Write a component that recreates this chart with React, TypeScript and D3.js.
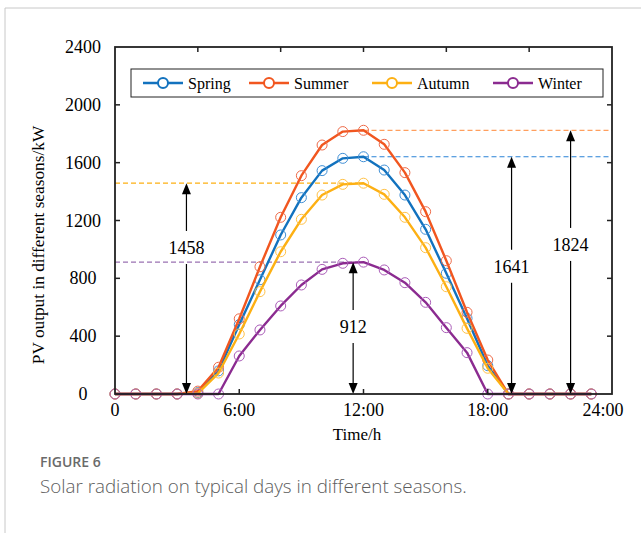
import React from 'react';
import * as d3 from 'd3';

// hourly PV output (kW) on a typical day per season
const hours = [0, 1, 2, 3, 4, 5, 6, 7, 8, 9, 10, 11, 12, 13, 14, 15, 16, 17, 18, 19, 20, 21, 22, 23];
const seasons = ['Spring', 'Summer', 'Autumn', 'Winter'];
const spring = [0, 0, 0, 0, 10, 160, 480, 790, 1100, 1358, 1545, 1630, 1641, 1549, 1376, 1139, 835, 523, 196, 0, 0, 0, 0, 0];
const summer = [0, 0, 0, 0, 20, 185, 520, 880, 1222, 1510, 1722, 1815, 1824, 1727, 1531, 1261, 922, 565, 235, 0, 0, 0, 0, 0];
const autumn = [0, 0, 0, 0, 5, 145, 415, 708, 984, 1208, 1376, 1450, 1458, 1381, 1222, 1012, 742, 454, 178, 0, 0, 0, 0, 0];
const winter = [0, 0, 0, 0, 0, 0, 263, 443, 609, 754, 862, 904, 912, 858, 770, 634, 459, 286, 0, 0, 0, 0, 0, 0];
const seriesValues = [spring, summer, autumn, winter];

const lineColors = ['#1272be', '#f1561f', '#fdb013', '#8b2b90'];
const markerColors = ['#3f8fd6', '#ee6a48', '#ffc247', '#aa5cb8'];
const dashColors = ['#2a82d6', '#ff9f5e', '#fdb013', '#9a72b2'];

// peak annotations: value, arrow hour, label centre (kW), side of the dashed guide
const peakLabels = ['1641', '1824', '1458', '912'];
const peakValues = [1641, 1824, 1458, 912];
const arrowHours = [19.15, 22, 3.45, 11.5];
const labelValues = [880, 1031, 1010, 463];
const guideSides = ['right', 'right', 'left', 'left'];

const xTicks = [0, 6, 12, 18, 24];
const xTickLabels = ['0', '6:00', '12:00', '18:00', '24:00'];
const topTicks = [4, 8, 12, 16, 20];
const yTicks = [0, 400, 800, 1200, 1600, 2000, 2400];

const serif = "'Liberation Serif', 'Times New Roman', serif";

const App = () => {
  const width = 641;
  const height = 533;
  const left = 115;
  const right = 612;
  const top = 47;
  const bottom = 394;

  const x = d3.scaleLinear().domain([0, 24]).range([left, right]);
  const y = d3.scaleLinear().domain([0, 2400]).range([bottom, top]);

  const line = d3.line<number>()
    .x((d, i) => x(hours[i]))
    .y(d => y(d));

  const arrowHead = (cx: number, tipY: number, dir: number) => {
    const len = 11;
    const half = 4.5;
    return `M${cx},${tipY} L${cx - half},${tipY + dir * len} L${cx + half},${tipY + dir * len} Z`;
  };

  // legend item positions
  const legendX = [143, 249, 372, 493];
  const legendY = 83;

  return (
    <svg width={width} height={height} style={{ position: 'absolute', left: 0, top: 0, background: '#fff' }}>
      {/* page frame */}
      <line x1={5} y1={8} x2={641} y2={8} stroke="#c8c8c8" strokeWidth={1} />
      <line x1={5} y1={8} x2={5} y2={533} stroke="#c8c8c8" strokeWidth={1} />

      {/* dashed peak guides */}
      {peakValues.map((v, i) => (
        <line
          key={'g' + i}
          x1={guideSides[i] === 'left' ? x(0) : x(12)}
          x2={guideSides[i] === 'left' ? x(12) : x(24)}
          y1={y(v)}
          y2={y(v)}
          stroke={dashColors[i]}
          strokeWidth={1.2}
          strokeDasharray="5,3"
        />
      ))}

      {/* series */}
      {seriesValues.map((vals, si) => (
        <g key={seasons[si]}>
          <path d={line(vals) || ''} fill="none" stroke={lineColors[si]} strokeWidth={2.4} strokeLinejoin="round" />
          {vals.map((v, i) => (
            <circle key={i} cx={x(hours[i])} cy={y(v)} r={5} fill="none" stroke={markerColors[si]} strokeWidth={1} />
          ))}
        </g>
      ))}

      {/* arrows */}
      {peakValues.map((v, i) => {
        const ax = x(arrowHours[i]);
        const yt = y(v);
        const yb = y(0);
        const ly = y(labelValues[i]);
        return (
          <g key={'a' + i}>
            <line x1={ax} x2={ax} y1={yt + 8} y2={ly - 17} stroke="#000" strokeWidth={1.2} />
            <line x1={ax} x2={ax} y1={ly + 16} y2={yb - 8} stroke="#000" strokeWidth={1.2} />
            <path d={arrowHead(ax, yt, 1)} fill="#000" />
            <path d={arrowHead(ax, yb, -1)} fill="#000" />
            <text x={ax} y={ly} textAnchor="middle" dominantBaseline="central" fontFamily={serif} fontSize={18}>
              {peakLabels[i]}
            </text>
          </g>
        );
      })}

      {/* axes box */}
      <rect x={left} y={top} width={right - left} height={bottom - top} fill="none" stroke="#222" strokeWidth={1.8} />
      {yTicks.slice(1, -1).map(t => (
        <g key={'yt' + t}>
          <line x1={left} x2={left + 5} y1={y(t)} y2={y(t)} stroke="#222" strokeWidth={1.5} />
          <line x1={right} x2={right - 5} y1={y(t)} y2={y(t)} stroke="#222" strokeWidth={1.5} />
        </g>
      ))}
      {topTicks.map(t => (
        <line key={'tt' + t} x1={x(t)} x2={x(t)} y1={top} y2={top + 5} stroke="#222" strokeWidth={1.5} />
      ))}
      {xTicks.slice(1, -1).map(t => (
        <line key={'bt' + t} x1={x(t)} x2={x(t)} y1={bottom} y2={bottom - 5} stroke="#222" strokeWidth={1.5} />
      ))}
      {yTicks.map(t => (
        <text key={'yl' + t} x={83} y={y(t)} textAnchor="middle" dominantBaseline="central" fontFamily={serif} fontSize={18}>
          {t}
        </text>
      ))}
      {xTicks.map((t, i) => (
        <text
          key={'xl' + t}
          x={i === xTicks.length - 1 ? x(t) - 9 : x(t)}
          y={416}
          textAnchor="middle"
          fontFamily={serif}
          fontSize={18}
        >
          {xTickLabels[i]}
        </text>
      ))}
      <text x={357} y={440} textAnchor="middle" fontFamily={serif} fontSize={17}>Time/h</text>
      <text
        transform={`translate(38,245) rotate(-90)`}
        textAnchor="middle"
        dominantBaseline="central"
        fontFamily={serif}
        fontSize={17.3}
      >
        PV output in different seasons/kW
      </text>

      {/* legend */}
      <rect x={131} y={69} width={472} height={28} fill="#fff" stroke="#222" strokeWidth={1} />
      {seasons.map((s, i) => (
        <g key={'lg' + s}>
          <line x1={legendX[i]} x2={legendX[i] + 40} y1={legendY} y2={legendY} stroke={lineColors[i]} strokeWidth={2.5} />
          <circle cx={legendX[i] + 20} cy={legendY} r={5} fill="#fff" stroke={lineColors[i]} strokeWidth={2} />
          <text x={legendX[i] + 45} y={legendY} dominantBaseline="central" fontFamily={serif} fontSize={16}>{s}</text>
        </g>
      ))}

      {/* caption */}
      <text x={40} y={467} fontFamily="'Open Sans', sans-serif" fontSize={14} fontWeight={600} fill="#6a6a6a">FIGURE 6</text>
      <text x={40} y={493} fontFamily="'Open Sans', sans-serif" fontSize={18.8} fontWeight={300} fill="#5c5c5c">
        Solar radiation on typical days in different seasons.
      </text>
    </svg>
  );
};

export default App;
